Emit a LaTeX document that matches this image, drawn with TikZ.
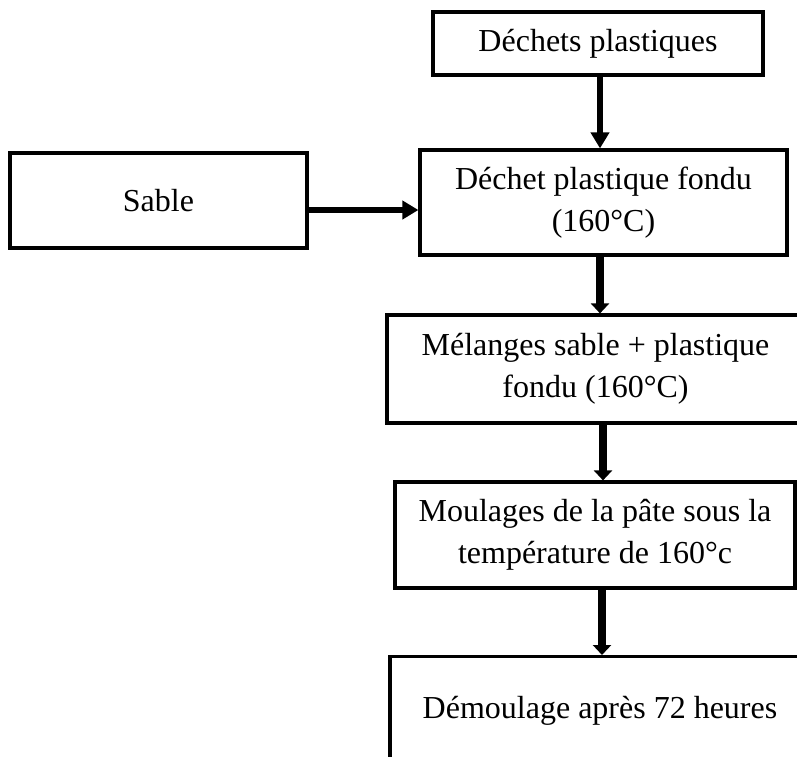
\documentclass[tikz,border=0pt]{standalone}
\usepackage{fontspec}
\setmainfont{Liberation Serif}
\usetikzlibrary{arrows.meta,positioning}

\begin{document}
\begin{tikzpicture}[
  x=0.5pt, y=-0.5pt,
  font=\fontsize{16}{21}\selectfont,
  box/.style={draw, line width=1.6pt, align=center, inner sep=0pt},
  arr/.style={-{Triangle[length=8pt,width=9pt]}, line width=3pt},
  arrb/.style={-{Triangle[length=5pt,width=9pt]}, line width=4pt}
]
\useasboundingbox (0,0) rectangle (797,756);
\clip (0,0) rectangle (797,756);

\node[box, minimum width=165pt, minimum height=31.5pt] (dechets) at (598,43.5) {Déchets plastiques};
\node[box, minimum width=148.5pt, minimum height=47.5pt] (sable) at (158.5,200.5) {Sable};
\node[box, minimum width=183.5pt, minimum height=52.5pt] (fondu) at (603.5,202.5) {Déchet plastique fondu\\(160°C)};
\node[box, minimum width=208.5pt, minimum height=54pt] (melange) at (595.5,369) {Mélanges sable + plastique\\fondu (160°C)};
\node[box, minimum width=200pt, minimum height=53pt] (moulage) at (595,535) {Moulages de la pâte sous la\\température de 160°c};
\node[box, anchor=north, minimum width=210pt, text height=31pt, text depth=70pt] (demoul) at (600,655) {Démoulage après 72 heures};

\draw[arr] ([xshift=1pt]dechets.south) -- ([xshift=1pt]dechets.south |- fondu.north);
\draw[arr] ([yshift=-4.75pt]sable.east) -- ([yshift=-4.75pt]sable.east -| fondu.west);
\draw[arrb] ([xshift=-1.75pt]fondu.south) -- ([xshift=-1.75pt]fondu.south |- melange.north);
\draw[arrb] ([xshift=3.75pt]melange.south) -- ([xshift=3.75pt]melange.south |- moulage.north);
\draw[arrb] ([xshift=3.5pt]moulage.south) -- ([xshift=3.5pt]moulage.south |- demoul.north);
\end{tikzpicture}
\end{document}
